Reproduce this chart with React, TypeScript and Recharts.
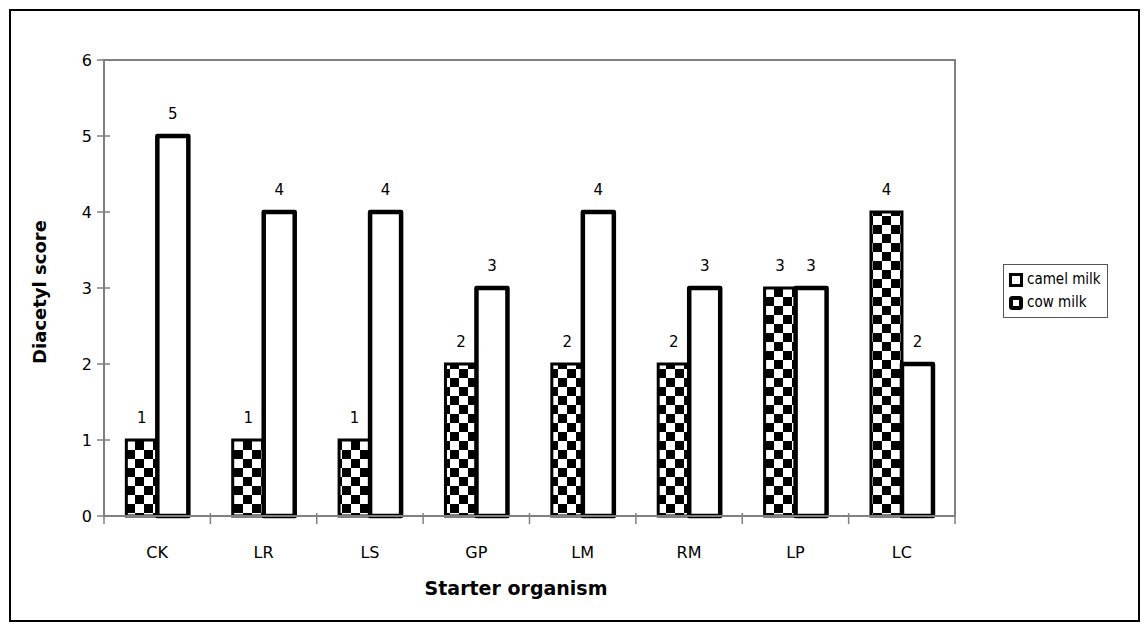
import { BarChart, Bar, XAxis, YAxis, LabelList, Label, ReferenceArea } from 'recharts'

const categories = ['CK', 'LR', 'LS', 'GP', 'LM', 'RM', 'LP', 'LC']
const camelMilk = [1, 1, 1, 2, 2, 2, 3, 4]
const cowMilk = [5, 4, 4, 3, 4, 3, 3, 2]
const yTicks = [0, 1, 2, 3, 4, 5, 6]

const data = categories.map((name, i) => ({ name, camel: camelMilk[i], cow: cowMilk[i] }))

const FONT = "'DejaVu Sans', Verdana, sans-serif"
const LEGEND_FONT = "'DejaVu Sans Condensed', 'DejaVu Sans', sans-serif"
const AXIS_GREY = '#808080'
const W = 1148
const H = 632
const PLOT_LEFT = 104
const PLOT_TOP = 60
const PLOT_RIGHT = 955
const PLOT_BOTTOM = 516
const BAND = (PLOT_RIGHT - PLOT_LEFT) / categories.length

function CategoryTick({ x, payload, index }: any) {
  const half = BAND / 2
  return (
    <g>
      <line x1={x - half} x2={x - half} y1={PLOT_BOTTOM - 3} y2={PLOT_BOTTOM + 8} stroke={AXIS_GREY} strokeWidth={1.5} />
      {index === categories.length - 1 && (
        <line x1={x + half} x2={x + half} y1={PLOT_BOTTOM - 3} y2={PLOT_BOTTOM + 8} stroke={AXIS_GREY} strokeWidth={1.5} />
      )}
      <text x={x} y={PLOT_BOTTOM + 42} textAnchor="middle" fontSize={16} fontFamily={FONT} fill="#000">
        {payload.value}
      </text>
    </g>
  )
}

function ValueTick({ y, payload }: any) {
  return (
    <g>
      <line x1={PLOT_LEFT - 7} x2={PLOT_LEFT + 6} y1={y} y2={y} stroke={AXIS_GREY} strokeWidth={1.5} />
      <text x={PLOT_LEFT - 12} y={y + 6} textAnchor="end" fontSize={16} fontFamily={FONT} fill="#000">
        {payload.value}
      </text>
    </g>
  )
}

function LegendBox() {
  return (
    <div
      style={{
        position: 'absolute',
        left: 1003,
        top: 264,
        border: '1px solid #555',
        background: '#fff',
        padding: '3px 6px 3px 5px',
        fontFamily: LEGEND_FONT,
        fontSize: 15,
        color: '#000',
        lineHeight: '23px',
      }}
    >
      <div style={{ display: 'flex', alignItems: 'center' }}>
        <svg width={14} height={14} style={{ marginRight: 4 }}>
          <rect x={1.5} y={1.5} width={11} height={11} fill="#fff" stroke="#000" strokeWidth={3} />
        </svg>
        camel milk
      </div>
      <div style={{ display: 'flex', alignItems: 'center' }}>
        <svg width={14} height={14} style={{ marginRight: 4 }}>
          <rect x={2} y={2} width={10} height={10} rx={1.5} fill="#fff" stroke="#000" strokeWidth={4} />
        </svg>
        cow milk
      </div>
    </div>
  )
}

export default function App() {
  return (
    <div style={{ position: 'absolute', left: 0, top: 0, width: W, height: H, background: '#fff' }}>
      <div
        style={{
          position: 'absolute',
          left: 9,
          top: 9,
          width: 1127,
          height: 609,
          border: '2px solid #000',
        }}
      />
      <div style={{ position: 'absolute', left: 0, top: 0 }}>
        <BarChart
          width={W}
          height={H}
          data={data}
          margin={{ top: PLOT_TOP, right: W - PLOT_RIGHT, bottom: H - PLOT_BOTTOM - 40, left: PLOT_LEFT - 60 }}
          barCategoryGap="21%"
          barGap={0}
        >
          <defs>
            <pattern id="checks" patternUnits="userSpaceOnUse" width={18} height={18}>
              <rect x={0} y={0} width={18} height={18} fill="#fff" />
              <rect x={0} y={0} width={9} height={9} fill="#000" />
              <rect x={9} y={9} width={9} height={9} fill="#000" />
            </pattern>
          </defs>
          <ReferenceArea y1={0} y2={6} fill="none" stroke={AXIS_GREY} strokeWidth={2} fillOpacity={0} ifOverflow="visible" />
          <XAxis
            dataKey="name"
            height={40}
            interval={0}
            tickLine={false}
            axisLine={{ stroke: AXIS_GREY, strokeWidth: 2 }}
            tick={<CategoryTick />}
          >
            <Label
              content={() => (
                <text x={516} y={595} textAnchor="middle" fontSize={19} fontWeight="bold" fontFamily={FONT} fill="#000">
                  Starter organism
                </text>
              )}
            />
          </XAxis>
          <YAxis
            domain={[0, 6]}
            ticks={yTicks}
            width={60}
            tickLine={false}
            axisLine={{ stroke: AXIS_GREY, strokeWidth: 2 }}
            tick={<ValueTick />}
          >
            <Label
              content={() => (
                <text
                  x={46}
                  y={292}
                  transform="rotate(-90 46 292)"
                  textAnchor="middle"
                  fontSize={18}
                  fontWeight="bold"
                  fontFamily={FONT}
                  fill="#000"
                >
                  Diacetyl score
                </text>
              )}
            />
          </YAxis>
          <Bar dataKey="camel" name="camel milk" fill="url(#checks)" stroke="#000" strokeWidth={3} isAnimationActive={false}>
            <LabelList dataKey="camel" position="top" offset={17} fontSize={15} fontFamily={FONT} fill="#000" />
          </Bar>
          <Bar dataKey="cow" name="cow milk" fill="#fff" stroke="#000" strokeWidth={4.5} strokeLinejoin="round" isAnimationActive={false}>
            <LabelList dataKey="cow" position="top" offset={17} fontSize={15} fontFamily={FONT} fill="#000" />
          </Bar>
        </BarChart>
      </div>
      <LegendBox />
    </div>
  )
}
